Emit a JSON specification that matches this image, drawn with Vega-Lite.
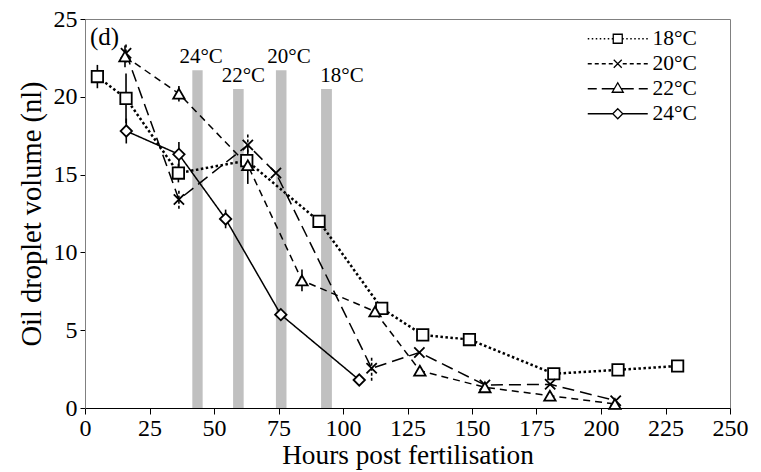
{
  "$schema": "https://vega.github.io/schema/vega-lite/v6.json",
  "width": 645,
  "height": 389,
  "autosize": {"type": "none"},
  "padding": {"left": 85, "top": 19, "right": 31, "bottom": 64},
  "background": "white",
  "config": {
    "view": {"stroke": "#808080", "strokeWidth": 1},
    "font": "Liberation Serif",
    "axis": {
      "labelFont": "Liberation Serif", "titleFont": "Liberation Serif",
      "labelColor": "black", "titleColor": "black", "tickColor": "black",
      "grid": false, "titleFontWeight": "normal", "labelFontSize": 24, "titleFontSize": 26,
      "tickSize": 6, "tickWidth": 1, "domainWidth": 1
    },
    "axisX": {"domainColor": "black", "labelPadding": 2, "titlePadding": 1, "labelFlush": false, "labelOverlap": false, "titleFontSize": 27.3},
    "axisY": {"domainColor": "#808080", "tickSize": 5, "labelPadding": 3, "titlePadding": 7, "titleFontSize": 28.5}
  },
  "datasets": {
    "bars": [
      {"temp": "24°C", "start": 41.6, "end": 45.6, "top": 21.7, "labelAt": 45.0},
      {"temp": "22°C", "start": 57.4, "end": 61.5, "top": 20.5, "labelAt": 61.4},
      {"temp": "20°C", "start": 74.0, "end": 78.1, "top": 21.7, "labelAt": 79.1},
      {"temp": "18°C", "start": 91.5, "end": 95.7, "top": 20.5, "labelAt": 99.6}
    ],
    "pts": [
      {"series": "18°C", "hours": 4.8, "vol": 21.3, "lo": 20.55, "hi": 22.05},
      {"series": "18°C", "hours": 15.9, "vol": 19.9, "lo": 18.3, "hi": 21.5},
      {"series": "18°C", "hours": 36.2, "vol": 15.1, "lo": 14.5, "hi": 15.7},
      {"series": "18°C", "hours": 62.7, "vol": 15.9},
      {"series": "18°C", "hours": 90.7, "vol": 12.0},
      {"series": "18°C", "hours": 115.0, "vol": 6.4},
      {"series": "18°C", "hours": 130.9, "vol": 4.7},
      {"series": "18°C", "hours": 149.0, "vol": 4.4},
      {"series": "18°C", "hours": 181.7, "vol": 2.2},
      {"series": "18°C", "hours": 206.6, "vol": 2.45},
      {"series": "18°C", "hours": 229.7, "vol": 2.7},
      {"series": "20°C", "hours": 15.9, "vol": 22.8, "lo": 22.2, "hi": 23.4},
      {"series": "20°C", "hours": 36.4, "vol": 13.4, "lo": 12.8, "hi": 14.0},
      {"series": "20°C", "hours": 63.1, "vol": 16.9, "lo": 16.1, "hi": 17.7},
      {"series": "20°C", "hours": 74.0, "vol": 15.1},
      {"series": "20°C", "hours": 111.1, "vol": 2.55, "lo": 1.75, "hi": 3.35},
      {"series": "20°C", "hours": 129.6, "vol": 3.57},
      {"series": "20°C", "hours": 155.0, "vol": 1.48},
      {"series": "20°C", "hours": 180.3, "vol": 1.52},
      {"series": "20°C", "hours": 205.7, "vol": 0.47},
      {"series": "22°C", "hours": 15.5, "vol": 22.6, "lo": 21.9, "hi": 23.3},
      {"series": "22°C", "hours": 36.4, "vol": 20.2, "lo": 19.7, "hi": 20.7},
      {"series": "22°C", "hours": 63.1, "vol": 15.6, "lo": 14.4, "hi": 16.8},
      {"series": "22°C", "hours": 84.1, "vol": 8.2, "lo": 7.5, "hi": 8.9},
      {"series": "22°C", "hours": 112.4, "vol": 6.2},
      {"series": "22°C", "hours": 129.8, "vol": 2.4},
      {"series": "22°C", "hours": 155.0, "vol": 1.33},
      {"series": "22°C", "hours": 180.2, "vol": 0.79},
      {"series": "22°C", "hours": 205.4, "vol": 0.26},
      {"series": "24°C", "hours": 16.0, "vol": 17.8, "lo": 17.0, "hi": 18.6},
      {"series": "24°C", "hours": 36.4, "vol": 16.3, "lo": 15.5, "hi": 17.1},
      {"series": "24°C", "hours": 54.5, "vol": 12.15, "lo": 11.55, "hi": 12.75},
      {"series": "24°C", "hours": 75.9, "vol": 6.0},
      {"series": "24°C", "hours": 106.3, "vol": 1.8, "lo": 1.5, "hi": 2.1}
    ]
  },
  "layer": [
    {
      "data": {"name": "bars"},
      "mark": {"type": "rect", "color": "#c0c0c0"},
      "encoding": {
        "x": {"field": "start", "type": "quantitative", "scale": {"domain": [0, 250], "nice": false}, "title": "Hours post fertilisation", "axis": {"values": [0, 25, 50, 75, 100, 125, 150, 175, 200, 225, 250]}},
        "x2": {"field": "end"},
        "y": {"field": "top", "type": "quantitative", "scale": {"domain": [0, 25], "nice": false}, "title": "Oil droplet volume (nl)", "axis": {"values": [0, 5, 10, 15, 20, 25]}},
        "y2": {"datum": 0}
      }
    },
    {
      "data": {"name": "bars"},
      "mark": {"type": "text", "font": "Liberation Serif", "fontSize": 21, "color": "black", "baseline": "alphabetic", "align": "center", "dy": -7},
      "encoding": {
        "x": {"field": "labelAt", "type": "quantitative", "scale": {"domain": [0, 250], "nice": false}, "title": "Hours post fertilisation", "axis": {"values": [0, 25, 50, 75, 100, 125, 150, 175, 200, 225, 250]}},
        "y": {"field": "top", "type": "quantitative", "scale": {"domain": [0, 25], "nice": false}, "title": "Oil droplet volume (nl)", "axis": {"values": [0, 5, 10, 15, 20, 25]}},
        "text": {"field": "temp"}
      }
    },
    {
      "data": {"values": [{"label": "(d)"}]},
      "mark": {"type": "text", "font": "Liberation Serif", "fontSize": 25, "color": "black", "baseline": "alphabetic", "align": "left"},
      "encoding": {
        "x": {"datum": 1.9, "type": "quantitative", "scale": {"domain": [0, 250], "nice": false}, "title": "Hours post fertilisation", "axis": {"values": [0, 25, 50, 75, 100, 125, 150, 175, 200, 225, 250]}},
        "y": {"datum": 23.3, "type": "quantitative", "scale": {"domain": [0, 25], "nice": false}, "title": "Oil droplet volume (nl)", "axis": {"values": [0, 5, 10, 15, 20, 25]}},
        "text": {"field": "label"}
      }
    },
    {
      "data": {"name": "pts"},
      "transform": [{"filter": "isValid(datum.lo) && datum.series !== '20°C'"}],
      "mark": {"type": "rule", "color": "black", "strokeWidth": 1.6},
      "encoding": {
        "x": {"field": "hours", "type": "quantitative", "scale": {"domain": [0, 250], "nice": false}, "title": "Hours post fertilisation", "axis": {"values": [0, 25, 50, 75, 100, 125, 150, 175, 200, 225, 250]}},
        "y": {"field": "lo", "type": "quantitative", "scale": {"domain": [0, 25], "nice": false}, "title": "Oil droplet volume (nl)", "axis": {"values": [0, 5, 10, 15, 20, 25]}},
        "y2": {"field": "hi"}
      }
    },
    {
      "data": {"name": "pts"},
      "transform": [{"filter": "isValid(datum.lo) && datum.series === '20°C'"}],
      "mark": {"type": "rule", "color": "black", "strokeWidth": 1.6, "strokeDash": [3, 2]},
      "encoding": {
        "x": {"field": "hours", "type": "quantitative", "scale": {"domain": [0, 250], "nice": false}, "title": "Hours post fertilisation", "axis": {"values": [0, 25, 50, 75, 100, 125, 150, 175, 200, 225, 250]}},
        "y": {"field": "lo", "type": "quantitative", "scale": {"domain": [0, 25], "nice": false}, "title": "Oil droplet volume (nl)", "axis": {"values": [0, 5, 10, 15, 20, 25]}},
        "y2": {"field": "hi"}
      }
    },
    {
      "data": {"name": "pts"},
      "transform": [{"filter": "datum.series === '18°C'"}],
      "mark": {"type": "line", "color": "black", "strokeWidth": 2.5, "strokeDash": [2.5, 2.5]},
      "encoding": {
        "x": {"field": "hours", "type": "quantitative", "scale": {"domain": [0, 250], "nice": false}, "title": "Hours post fertilisation", "axis": {"values": [0, 25, 50, 75, 100, 125, 150, 175, 200, 225, 250]}},
        "y": {"field": "vol", "type": "quantitative", "scale": {"domain": [0, 25], "nice": false}, "title": "Oil droplet volume (nl)", "axis": {"values": [0, 5, 10, 15, 20, 25]}}
      }
    },
    {
      "data": {"name": "pts"},
      "transform": [{"filter": "datum.series !== '18°C'"}],
      "mark": {"type": "line", "color": "black", "strokeWidth": 1.5},
      "encoding": {
        "x": {"field": "hours", "type": "quantitative", "scale": {"domain": [0, 250], "nice": false}, "title": "Hours post fertilisation", "axis": {"values": [0, 25, 50, 75, 100, 125, 150, 175, 200, 225, 250]}},
        "y": {"field": "vol", "type": "quantitative", "scale": {"domain": [0, 25], "nice": false}, "title": "Oil droplet volume (nl)", "axis": {"values": [0, 5, 10, 15, 20, 25]}},
        "strokeDash": {"field": "series", "type": "nominal", "scale": {"domain": ["20°C", "22°C", "24°C"], "range": [[12, 6], [7, 5], [1, 0]]}, "legend": null}
      }
    },
    {
      "data": {"name": "pts"},
      "mark": {"type": "point", "filled": true, "fill": "white", "stroke": "black", "strokeWidth": 1.8, "opacity": 1, "size": 130},
      "encoding": {
        "x": {"field": "hours", "type": "quantitative", "scale": {"domain": [0, 250], "nice": false}, "title": "Hours post fertilisation", "axis": {"values": [0, 25, 50, 75, 100, 125, 150, 175, 200, 225, 250]}},
        "y": {"field": "vol", "type": "quantitative", "scale": {"domain": [0, 25], "nice": false}, "title": "Oil droplet volume (nl)", "axis": {"values": [0, 5, 10, 15, 20, 25]}},
        "shape": {"field": "series", "type": "nominal", "scale": {"domain": ["18°C", "20°C", "22°C", "24°C"], "range": ["square", "M-0.9,-0.9L0.9,0.9M-0.9,0.9L0.9,-0.9", "triangle-up", "diamond"]}, "legend": null}
      }
    },
    {
      "data": {"name": "pts"},
      "transform": [{"filter": "datum.hours < 0"}],
      "mark": {"type": "point", "filled": false, "stroke": "black", "strokeWidth": 1.3, "opacity": 1, "size": 100},
      "encoding": {
        "shape": {
          "field": "series", "type": "nominal",
          "scale": {
            "domain": ["18°C", "20°C", "22°C", "24°C"],
            "range": [
              "M-6,0L-5.7,0M-5.2,0L-4.9,0M-4.4,0L-4.1,0M-3.6,0L-3.3,0M-2.8,0L-2.5,0M-2,0L-1.7,0M-1.2,0L-0.9,0M-0.9,-0.9L0.9,-0.9L0.9,0.9L-0.9,0.9ZM0.9,0L1.2,0M1.7,0L2,0M2.5,0L2.8,0M3.3,0L3.6,0M4.1,0L4.4,0M4.9,0L5.2,0M5.7,0L6,0",
              "M-6,0L-5.2,0M-4.6,0L-3.8,0M-3.2,0L-2.4,0M-1.8,0L-1,0M-0.8,-0.8L0.8,0.8M-0.8,0.8L0.8,-0.8M1,0L1.8,0M2.4,0L3.2,0M3.8,0L4.6,0M5.2,0L6,0",
              "M-6,0L-4.2,0M-3.2,0L-0.7,0M0,-1.2L1.1,0.7L-1.1,0.7ZM0.7,0L3.2,0M4.2,0L6,0",
              "M-6,0L-1,0M0,-1L1,0L0,1L-1,0ZM1,0L6,0"
            ]
          },
          "legend": {
            "title": null, "orient": "none", "legendX": 522, "legendY": 9,
            "labelFont": "Liberation Serif", "labelFontSize": 21.5, "labelColor": "black",
            "labelOffset": 24, "rowPadding": 2, "padding": 0, "symbolSize": 100,
            "symbolStrokeWidth": 1.3, "symbolFillColor": "white", "symbolStrokeColor": "black",
            "symbolOpacity": 1,
            "encode": {
              "symbols": {
                "update": {
                  "stroke": {"value": "black"},
                  "fill": {"value": "white"},
                  "opacity": {"value": 1},
                  "strokeWidth": {"signal": "datum.value === '24°C' ? 2 : 1.3"}
                }
              }
            }
          }
        }
      }
    }
  ],
  "resolve": {"scale": {"shape": "independent"}}
}
